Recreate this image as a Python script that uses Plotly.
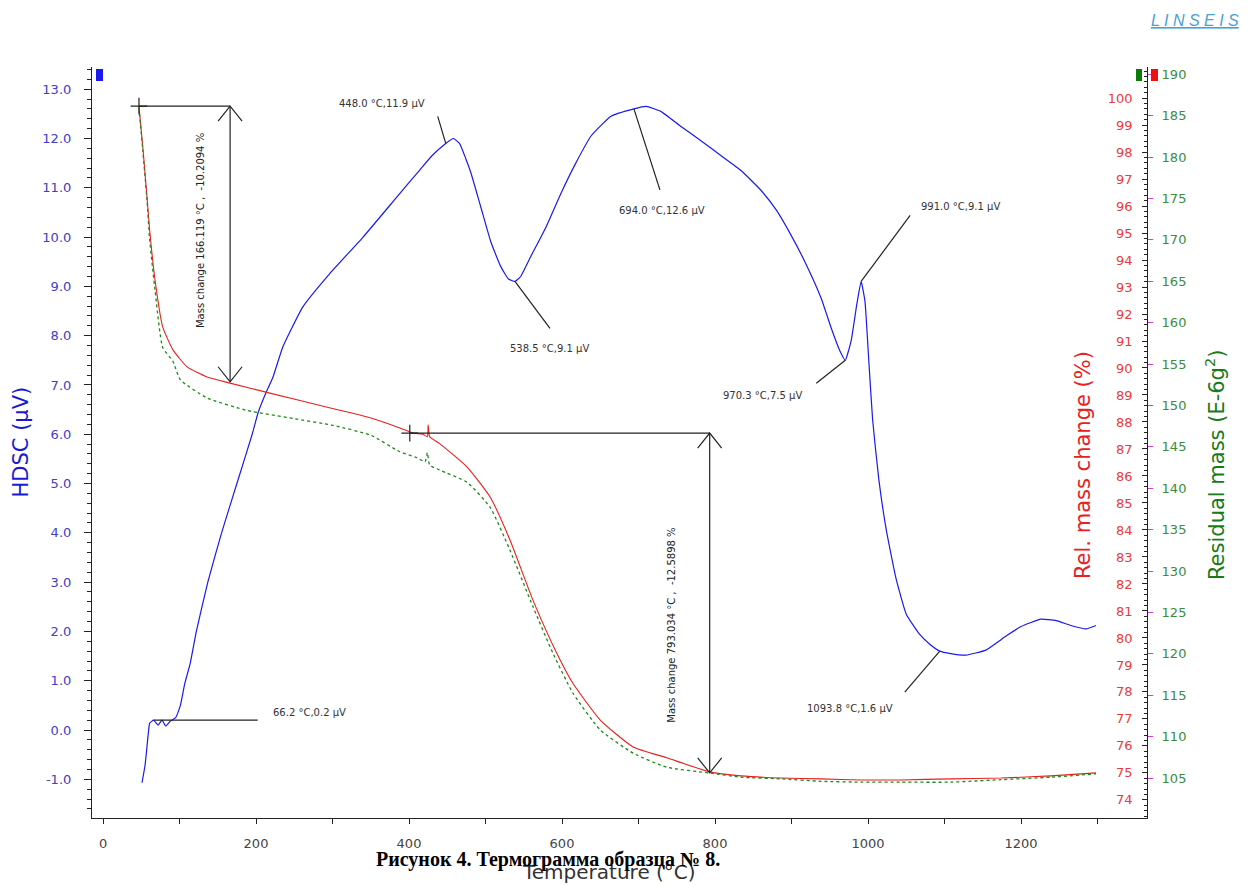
import plotly.graph_objects as go

# ---------------- data ----------------
hdsc_T = [51, 55, 59, 61, 66.2, 72, 77, 82, 88, 95, 101, 107, 114, 122, 137, 155, 175, 195, 203, 213,
          222, 235, 261, 297, 340, 384, 414, 430, 448, 458, 466, 474, 481, 494, 507, 520, 530, 538.5,
          546, 559, 579, 599, 618, 638, 664, 694, 710, 729, 755, 782, 808, 834, 860, 880, 899, 919,
          939, 952, 963, 970.3, 978, 985, 991, 996, 1001, 1006, 1014, 1024, 1037, 1050, 1067, 1080,
          1093.8, 1108, 1128, 1154, 1180, 1200, 1226, 1246, 1265, 1285, 1298]
hdsc_V = [-1.07, -0.71, -0.1, 0.14, 0.2, 0.1, 0.2, 0.08, 0.18, 0.25, 0.49, 0.95, 1.35, 2.0, 3.0, 4.0,
          5.0, 6.0, 6.45, 6.84, 7.15, 7.77, 8.58, 9.27, 10.0, 10.81, 11.36, 11.65, 11.9, 12.0, 11.9,
          11.6, 11.3, 10.6, 9.9, 9.4, 9.15, 9.1, 9.2, 9.6, 10.2, 10.9, 11.5, 12.05, 12.45, 12.6, 12.65,
          12.55, 12.25, 11.95, 11.65, 11.35, 10.95, 10.55, 10.05, 9.45, 8.75, 8.15, 7.7, 7.5, 7.9, 8.6,
          9.1, 8.7, 7.5, 6.3, 5.1, 4.05, 3.05, 2.35, 1.95, 1.75, 1.6, 1.55, 1.52, 1.62, 1.9, 2.1, 2.25,
          2.22, 2.12, 2.05, 2.12]

rel_T = [47, 52, 57.5, 61, 68, 78, 91.5, 110, 136, 166, 218, 297, 350, 388, 405, 418, 424, 425, 427,
         440, 476, 506, 532, 562, 593, 614, 650, 693, 737, 793, 834, 886, 939, 991, 1043, 1108, 1174,
         1239, 1298]
rel_pct = [99.67, 98.19, 96.33, 95.1, 93.26, 91.52, 90.67, 90.04, 89.67, 89.44, 89.07, 88.52, 88.15,
           87.78, 87.59, 87.55, 87.45, 87.9, 87.45, 87.2, 86.33, 85.22, 83.63, 81.4, 79.44, 78.33,
           76.96, 75.96, 75.56, 75.04, 74.89, 74.81, 74.78, 74.74, 74.74, 74.78, 74.81, 74.89, 75.0]

res_T = [47, 52, 57.5, 61, 68, 78, 91.5, 101, 136, 188, 250, 300, 350, 388, 410, 421, 424, 427, 440,
         476, 506, 532, 562, 588, 614, 650, 693, 737, 793, 834, 886, 939, 991, 1043, 1108, 1174, 1239,
         1298]
res_mass = [186.0, 180.8, 174.8, 170.0, 163.9, 157.0, 155.3, 153.1, 150.9, 149.4, 148.4, 147.6, 146.4,
            144.4, 143.7, 143.2, 144.3, 142.8, 142.2, 140.7, 137.7, 132.5, 125.7, 120.1, 115.3, 110.8,
            108.0, 106.3, 105.6, 105.1, 104.9, 104.6, 104.5, 104.5, 104.5, 104.8, 105.1, 105.5]

# peak labels on HDSC curve
peak_T = [66.2, 448.0, 538.5, 694.0, 970.3, 991.0, 1093.8]
peak_V = [0.2, 11.9, 9.1, 12.6, 7.5, 9.1, 1.6]

# mass-change measurements (on Rel. mass change axis)
mc_start_T = [47, 401]
mc_end_T = [166.119, 793.034]
mc_top = [99.7, 87.59]
mc_change = [-10.2094, -12.5898]

x_tick_vals = list(range(0, 1201, 200))
hdsc_ticks = [-1, 0, 1, 2, 3, 4, 5, 6, 7, 8, 9, 10, 11, 12, 13]
rel_ticks = list(range(74, 101))
res_ticks = list(range(105, 191, 5))

# ---------------- layout helpers (pixel offsets, styles) ----------------
leader_off = [(104, 0), (-8, -27), (35, 47), (26, 81), (-29, 23), (49, -66), (-35, 41)]
text_off = [(156, -8), (-64, -40), (35, 67), (28, 102), (-83, 35), (99, -75), (-90, 57)]
mc_text_shift = [(-29, 13), (-38, -22)]

BLUE = "#1a1aee"
RED = "#e8201c"
GREEN = "#1a8a1a"
FONT = "DejaVu Sans"
INK = "#222"

fig = go.Figure()
fig.add_trace(go.Scatter(x=rel_T, y=rel_pct, yaxis="y2", mode="lines",
                         line=dict(color=RED, width=1.1, shape="spline", smoothing=0.5),
                         showlegend=False, hoverinfo="skip"))
fig.add_trace(go.Scatter(x=res_T, y=res_mass, yaxis="y3", mode="lines",
                         line=dict(color=GREEN, width=1.3, dash="dot", shape="spline", smoothing=0.5),
                         showlegend=False, hoverinfo="skip"))
fig.add_trace(go.Scatter(x=hdsc_T, y=hdsc_V, yaxis="y", mode="lines",
                         line=dict(color=BLUE, width=1.2, shape="spline", smoothing=0.4),
                         showlegend=False, hoverinfo="skip"))

# start crosses of mass-change measurements
fig.add_trace(go.Scatter(x=mc_start_T, y=mc_top, yaxis="y2", mode="markers",
                         marker=dict(symbol="cross-thin", size=12, line=dict(color=INK, width=1.2)),
                         showlegend=False, hoverinfo="skip"))

shapes = []
annotations = []

for i in range(len(mc_end_T)):
    top = mc_top[i]
    bot = mc_top[i] + mc_change[i]
    shapes.append(dict(type="line", xref="x", yref="y2", x0=mc_start_T[i], x1=mc_end_T[i],
                       y0=top, y1=top, line=dict(color=INK, width=1.2)))
    shapes.append(dict(type="line", xref="x", yref="y2", x0=mc_end_T[i], x1=mc_end_T[i],
                       y0=top, y1=bot, line=dict(color=INK, width=1.2)))
    shapes.append(dict(type="path", xref="x", yref="y2", xsizemode="pixel", ysizemode="pixel",
                       xanchor=mc_end_T[i], yanchor=top, path="M-12,-15 L0,0 L12,-15",
                       line=dict(color=INK, width=1.2)))
    shapes.append(dict(type="path", xref="x", yref="y2", xsizemode="pixel", ysizemode="pixel",
                       xanchor=mc_end_T[i], yanchor=bot, path="M-12,15 L0,0 L12,15",
                       line=dict(color=INK, width=1.2)))
    annotations.append(dict(x=mc_end_T[i], y=(top + bot) / 2, xref="x", yref="y2",
                            text=f"Mass change {mc_end_T[i]:.3f} °C ,  {mc_change[i]:.4f} %",
                            textangle=-90, showarrow=False,
                            xshift=mc_text_shift[i][0], yshift=mc_text_shift[i][1],
                            font=dict(family=FONT, size=10, color=INK)))

for i in range(len(peak_T)):
    shapes.append(dict(type="line", xref="x", yref="y", xsizemode="pixel", ysizemode="pixel",
                       xanchor=peak_T[i], yanchor=peak_V[i], x0=0, y0=0,
                       x1=leader_off[i][0], y1=-leader_off[i][1],
                       line=dict(color=INK, width=1.2)))
    annotations.append(dict(x=peak_T[i], y=peak_V[i], xref="x", yref="y",
                            text=f"{peak_T[i]:.1f} °C,{peak_V[i]:.1f} µV", showarrow=False,
                            xshift=text_off[i][0], yshift=-text_off[i][1],
                            font=dict(family=FONT, size=10, color="#333")))

# legend colour squares
shapes.append(dict(type="rect", xref="paper", yref="paper", xsizemode="pixel", ysizemode="pixel",
                   xanchor=0, yanchor=1, x0=4, x1=11, y0=-2, y1=-14, fillcolor="#1a1aee", line_width=0))
shapes.append(dict(type="rect", xref="paper", yref="paper", xsizemode="pixel", ysizemode="pixel",
                   xanchor=1, yanchor=1, x0=-11, x1=-5, y0=-2, y1=-14, fillcolor="#0a7a0a", line_width=0))
shapes.append(dict(type="rect", xref="paper", yref="paper", xsizemode="pixel", ysizemode="pixel",
                   xanchor=1, yanchor=1, x0=4, x1=11, y0=-2, y1=-14, fillcolor="#ee1111", line_width=0))

# axis titles, caption, logo
annotations += [
    dict(xref="paper", yref="paper", x=0, y=0.5, xshift=-72, xanchor="center", yanchor="middle",
         text="HDSC (µV)", textangle=-90,
         showarrow=False, font=dict(family=FONT, size=21, color="#1a1ad6")),
    dict(xref="paper", yref="paper", x=1, y=0.47, xshift=-64, xanchor="center", yanchor="middle",
         text="Rel. mass change (%)",
         textangle=-90, showarrow=False, font=dict(family=FONT, size=21, color="#e82020")),
    dict(xref="paper", yref="paper", x=1, y=0.47, xshift=68, xanchor="center", yanchor="middle",
         text="Residual mass (E-6g<sup>2</sup>)",
         textangle=-90, showarrow=False, font=dict(family=FONT, size=21, color="#1a7a1a")),
    dict(xref="paper", yref="paper", x=0.49, y=0, yshift=-54, xanchor="center", yanchor="middle",
         text="Temperature (°C)",
         showarrow=False, font=dict(family=FONT, size=20, color="#333")),
    dict(xref="paper", yref="paper", x=0.432, y=0, yshift=-41, xanchor="center", yanchor="middle",
         text="<b>Рисунок 4. Термограмма образца № 8.</b>",
         showarrow=False, font=dict(family="Liberation Serif", size=20, color="#000")),
    dict(xref="paper", yref="paper", x=1.0455, y=1, yshift=47, xanchor="center", yanchor="middle",
         text="<i><u>L I N S E I S</u></i>", showarrow=False,
         font=dict(family="Liberation Sans", size=16, color="#4a9fd4")),
]

fig.update_layout(
    width=1251, height=885,
    margin=dict(l=92, r=104, t=67, b=67),
    paper_bgcolor="white", plot_bgcolor="white",
    showlegend=False,
    xaxis=dict(range=[-14.4, 1364.7], tickmode="array", tickvals=x_tick_vals,
               ticks="outside", ticklen=5, tickcolor=INK, showline=True, linecolor=INK,
               minor=dict(tickmode="linear", tick0=0, dtick=100, ticks="outside", ticklen=5,
                          tickcolor=INK),
               linewidth=1.2, showgrid=False, zeroline=False, ticklabelstandoff=8,
               tickfont=dict(family=FONT, size=13, color="#444")),
    yaxis=dict(range=[-1.785, 13.45], tickmode="array", tickvals=hdsc_ticks,
               ticktext=[f"{v:.1f}" for v in hdsc_ticks], ticks="outside", ticklen=7, tickcolor=INK,
               minor=dict(tickmode="linear", tick0=0, dtick=0.2, ticks="outside", ticklen=4,
                          tickcolor=INK),
               showline=True, linecolor=INK, linewidth=1.2, showgrid=False, zeroline=False,
               ticklabelstandoff=10, tickfont=dict(family=FONT, size=13, color="#4040c8")),
    yaxis2=dict(range=[73.33, 101.15], overlaying="y", side="right", anchor="x", tickmode="array",
                tickvals=rel_ticks, ticks="inside", ticklen=5, tickcolor=INK,
                minor=dict(tickmode="linear", tick0=0, dtick=0.2, ticks="inside", ticklen=3,
                           tickcolor=INK),
                ticklabelposition="inside", ticklabelstandoff=9,
                showline=True, linecolor=INK, linewidth=1.2, showgrid=False, zeroline=False,
                tickfont=dict(family=FONT, size=13, color="#e83c3c")),
    yaxis3=dict(range=[100.17, 190.87], overlaying="y", side="right", anchor="free", position=1,
                tickmode="array", tickvals=res_ticks, ticks="outside", ticklen=5, tickcolor="#d040d0",
                showline=False, showgrid=False, zeroline=False, ticklabelstandoff=6,
                tickfont=dict(family=FONT, size=13, color="#3c8c3c")),
    shapes=shapes,
    annotations=annotations,
)

fig.write_html("out.html")
